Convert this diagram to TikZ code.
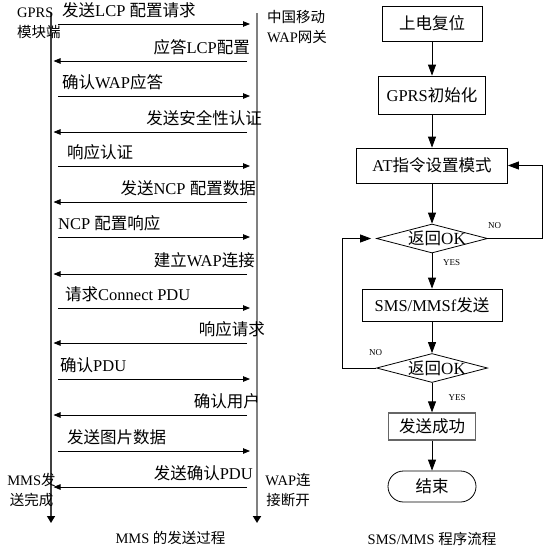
\documentclass[tikz,border=0pt]{standalone}
\usepackage{fontspec}
\setmainfont{Liberation Serif}
\newfontfamily\cjk{Noto Sans CJK SC}
\newcommand\zh[1]{{\cjk #1}}
\usetikzlibrary{arrows.meta,shapes.geometric,calc}
\newcommand\MsgR[4]{%
  \node[msg, anchor=base west] (#1) at (#3,#2-7.5) {#4};
  \draw[mr] ($(lt|-0,#2)+(7,0)$) -- ($(rt|-0,#2)+(-7,0)$);}
\newcommand\MsgL[4]{%
  \node[msg, anchor=base east] (#1) at (#3,#2-7.5) {#4};
  \draw[mr] ($(rt|-0,#2)+(-10,0)$) -- ($(lt|-0,#2)+(2.5,0)$);}
\begin{document}
\begin{tikzpicture}[x=1pt,y=-1pt,
  msg/.style={font=\fontsize{16.5}{19}\selectfont, inner sep=0pt},
  lbl/.style={font=\fontsize{14.5}{20}\selectfont, inner sep=0pt},
  life/.style={line width=1.4pt, -{Triangle[length=7pt,width=8pt,color=black]}},
  mr/.style={line width=0.8pt, -{Triangle[length=7pt,width=5.5pt]}},
  box/.style={draw, line width=0.8pt, font=\fontsize{16.5}{19}\selectfont, inner sep=0pt},
  dia/.style={draw, line width=0.8pt, diamond, aspect=3.8, inner sep=0pt, minimum width=111pt, minimum height=29pt},
  flow/.style={line width=0.8pt, -{Triangle[length=11pt,width=8pt]}},
  yn/.style={font=\fontsize{9}{10}\selectfont, inner sep=0pt}
]
\useasboundingbox[fill=white] (0,0) rectangle (559,552);

% lifelines
\coordinate (lt) at (51,13);
\coordinate (lb) at (51,523);
\coordinate (rt) at (257,13);
\coordinate (rb) at (257,523);
\draw[life, black!75] (lt) -- (lb);
\draw[life, gray, line width=2pt] (rt) -- (rb);

\node[lbl, anchor=north west, align=left] (gprs) at (17,8) {GPRS\\\zh{模块端}};
\node[lbl, anchor=north west, align=left] (wap) at (267,10) {\zh{中国移动}\\WAP\zh{网关}};
\node[lbl, anchor=north, align=center] (mmsdone) at (31.5,473) {MMS\zh{发}\\\zh{送完成}};
\node[lbl, anchor=north, align=center] (wapoff) at (288,473) {WAP\zh{连}\\\zh{接断开}};

% messages
\MsgR{m1}{24}{62}{\zh{发送}LCP \zh{配置请求}}
\MsgL{m2}{61}{250}{\zh{应答}LCP\zh{配置}}
\MsgR{m3}{96}{62}{\zh{确认}WAP\zh{应答}}
\MsgL{m4}{132}{262}{\zh{发送安全性认证}}
\MsgR{m5}{166}{67}{\zh{响应认证}}
\MsgL{m6}{202}{256}{\zh{发送}NCP \zh{配置数据}}
\MsgR{m7}{237}{58}{NCP \zh{配置响应}}
\MsgL{m8}{274}{255}{\zh{建立}WAP\zh{连接}}
\MsgR{m9}{308}{65}{\zh{请求}Connect PDU}
\MsgL{m10}{343}{265}{\zh{响应请求}}
\MsgR{m11}{379}{60}{\zh{确认}PDU}
\MsgL{m12}{415}{260}{\zh{确认用户}}
\MsgR{m13}{451}{67}{\zh{发送图片数据}}
\MsgL{m14}{487}{253}{\zh{发送确认}PDU}

\node[lbl] (cap1) at (170.5,538) {MMS \zh{的发送过程}};

% flowchart
\node[box, minimum width=100pt, minimum height=35pt] (b1) at (432,23.5) {\zh{上电复位}};
\node[box, minimum width=107pt, minimum height=38pt] (b2) at (432,95) {GPRS\zh{初始化}};
\node[box, minimum width=151pt, minimum height=35pt] (b3) at (432,165.5) {AT\zh{指令设置模式}};
\node[dia] (d1) at (432,238.5) {};
\node[msg] (d1t) at ([xshift=5pt]d1.center) {\zh{返回}{\fontsize{17}{19}\selectfont OK}};
\node[box, minimum width=140pt, minimum height=32pt] (b4) at (432,305) {SMS/MMSf\zh{发送}};
\node[dia] (d2) at (432,368) {};
\node[msg] (d2t) at ([xshift=5pt]d2.center) {\zh{返回}{\fontsize{17}{19}\selectfont OK}};
\node[box, draw=black!60, line width=1.3pt, minimum width=87pt, minimum height=27pt] (b5) at (432,426.5) {\zh{发送成功}};
\node[box, rounded corners=15.5pt, minimum width=88pt, minimum height=31pt] (e) at (432,486.5) {\zh{结束}};

\coordinate (c1) at (542,165.5);
\coordinate (c2) at (342,238.5);

\draw[flow] (b1) -- (b2);
\draw[flow] (b2) -- (b3);
\draw[flow] (b3) -- (d1.north);
\draw[flow] (d1.south) -- (b4);
\draw[flow] (b4) -- (d2.north);
\draw[flow] (d2.south) -- (b5);
\draw[flow] (b5) -- (e);
\draw[flow] (d1.east) -| (c1) -- (b3.east);
\draw[flow] (d2.west) -| (c2) -- ([xshift=-5pt]d1.west);

\node[yn] (no1) at (494.5,226) {NO};
\node[yn] (yes1) at (451.5,263) {YES};
\node[yn] (no2) at (375.5,353) {NO};
\node[yn] (yes2) at (457,398) {YES};

\node[lbl] (cap2) at (432,539) {SMS/MMS \zh{程序流程}};
\end{tikzpicture}
\end{document}
